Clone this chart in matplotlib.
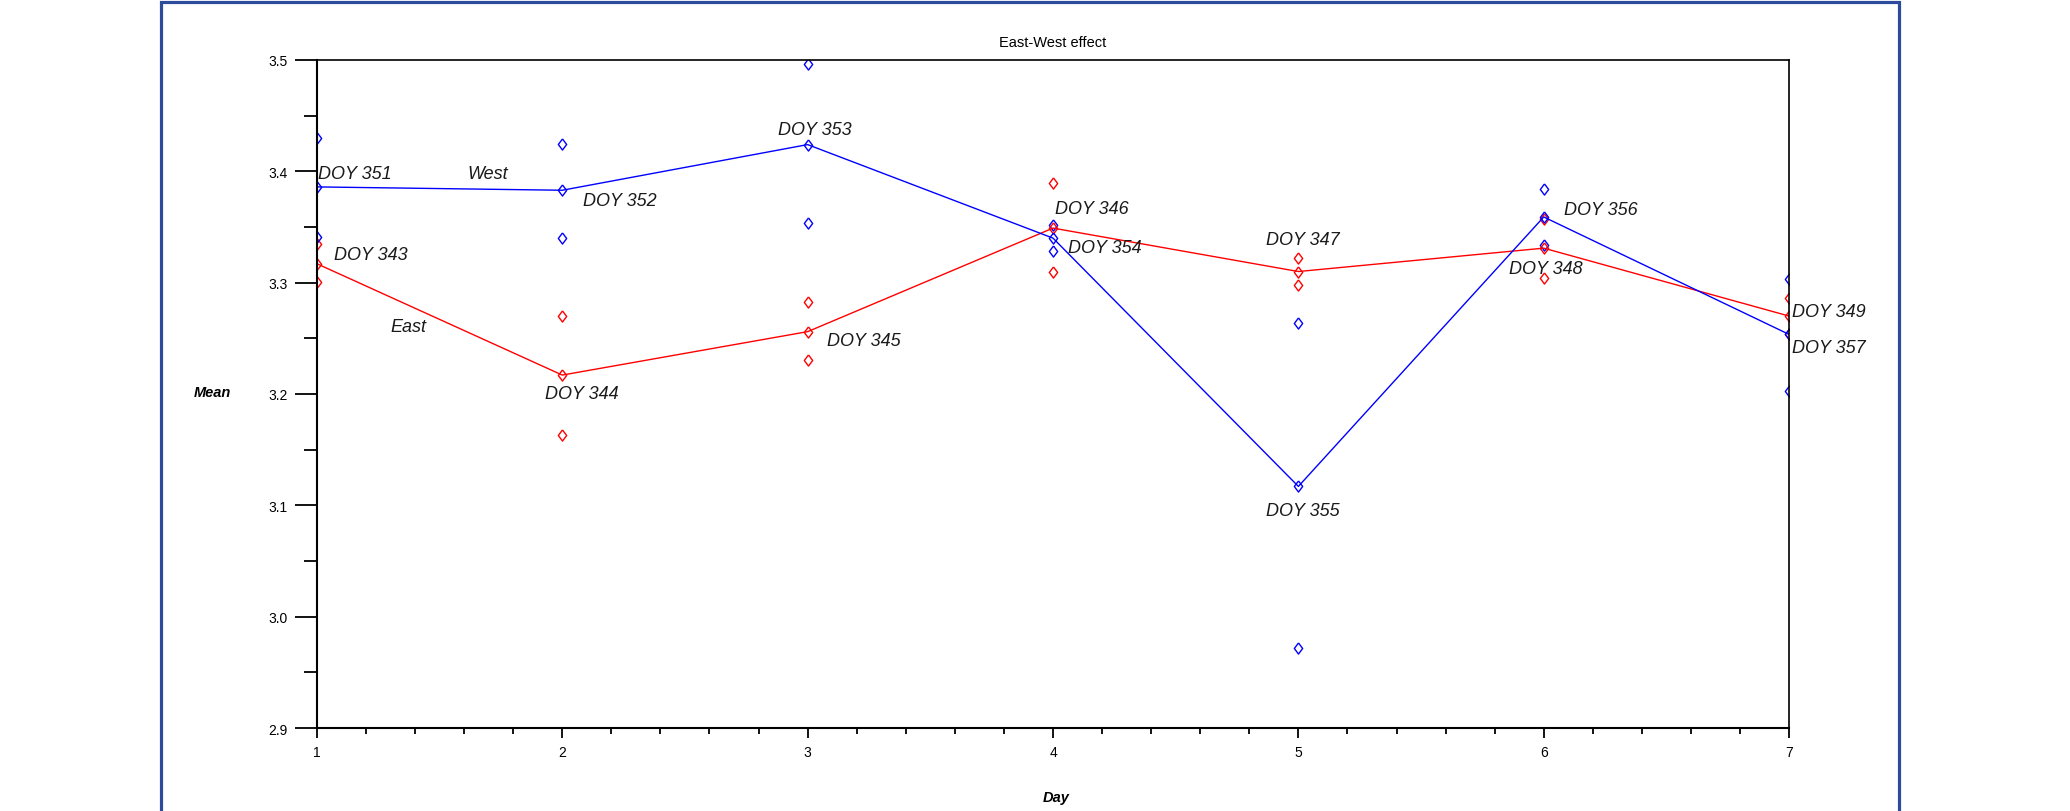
import matplotlib
matplotlib.use('Agg')
import matplotlib.pyplot as plt
import matplotlib.patches as patches
from matplotlib import font_manager

# data: two samples per day for each side, plus the daily mean
days = [1, 2, 3, 4, 5, 6, 7]
east_a = [3.335, 3.2705, 3.2822, 3.3895, 3.3222, 3.3568, 3.2861]
east_b = [3.3004, 3.163, 3.2305, 3.3094, 3.2977, 3.304, 3.2543]
east_mean = [3.317, 3.217, 3.256, 3.349, 3.310, 3.331, 3.270]
west_a = [3.4295, 3.4244, 3.4967, 3.3521, 3.2634, 3.3844, 3.3031]
west_b = [3.341, 3.3405, 3.3533, 3.3288, 2.972, 3.3339, 3.203]
west_mean = [3.386, 3.383, 3.424, 3.340, 3.117, 3.359, 3.2535]

# DOY annotations (text, x, y) in data units
doy_labels = [
    ('DOY 351', 1.006, 3.398), ('DOY 343', 1.068, 3.325),
    ('DOY 352', 2.084, 3.374), ('DOY 344', 1.929, 3.200),
    ('DOY 353', 2.879, 3.438), ('DOY 345', 3.079, 3.248),
    ('DOY 346', 4.008, 3.367), ('DOY 354', 4.061, 3.332),
    ('DOY 347', 4.868, 3.339), ('DOY 355', 4.867, 3.095),
    ('DOY 356', 6.082, 3.366), ('DOY 348', 5.858, 3.313),
    ('DOY 349', 7.012, 3.274), ('DOY 357', 7.012, 3.242),
]
side_labels = [('West', 1.697, 3.398), ('East', 1.375, 3.261)]

plt.rcParams['font.family'] = ['Liberation Sans', 'DejaVu Sans']

installed = {f.name for f in font_manager.fontManager.ttflist}
if 'Liberation Sans Narrow' in installed:
    doy_font = ['Liberation Sans Narrow', 'Liberation Sans']
    doy_size = 15.5
else:
    doy_font = ['Liberation Sans', 'DejaVu Sans']
    doy_size = 13

fig = plt.figure(figsize=(20.7, 8.12), dpi=100)
ax = fig.add_axes([0.1531, 0.1022, 0.7112, 0.8227])

# blue outer frame
frame = patches.Rectangle((0.0778, -0.05), 0.8396, 1.0463, transform=fig.transFigure,
                          fill=False, edgecolor='#2D4B9B', linewidth=2.3, clip_on=False)
fig.patches.append(frame)

diamond = [(0, 1), (0.75, 0), (0, -1), (-0.75, 0), (0, 1)]
mk = dict(marker=diamond, ms=8, mfc='none', mew=1.0, linestyle='none')

red = '#FF0000'
blue = '#0000FF'
ax.plot(days, east_a, color=red, **mk)
ax.plot(days, east_b, color=red, **mk)
ax.plot(days, west_a, color=blue, **mk)
ax.plot(days, west_b, color=blue, **mk)
ax.plot(days, east_mean, color=red, lw=1.0, marker=diamond, ms=8, mfc='none', mew=1.0)
ax.plot(days, west_mean, color=blue, lw=1.0, marker=diamond, ms=8, mfc='none', mew=1.0)

for txt, x, y in doy_labels:
    ax.text(x, y, txt, ha='left', va='center', style='italic', family=doy_font,
            fontsize=doy_size, color='#1a1a1a', clip_on=False)
for txt, x, y in side_labels:
    ax.text(x, y, txt, ha='center', va='center', style='italic', family=doy_font,
            fontsize=doy_size, color='#1a1a1a')

ax.set_xlim(1, 7)
ax.set_ylim(2.9, 3.5)
ax.set_xticks(days)
ax.set_xticks([d + k * 0.2 for d in days[:-1] for k in range(1, 5)], minor=True)
ax.set_yticks([2.9, 3.0, 3.1, 3.2, 3.3, 3.4, 3.5])
ax.set_yticklabels(['2.9', '3.0', '3.1', '3.2', '3.3', '3.4', '3.5'])
ax.set_yticks([2.95, 3.05, 3.15, 3.25, 3.35, 3.45], minor=True)

ax.tick_params(axis='y', which='major', direction='out', length=16, width=1.3,
               pad=5, labelsize=10)
ax.tick_params(axis='y', which='minor', direction='out', length=9.4, width=1.3)
ax.tick_params(axis='x', which='major', direction='out', length=7.2, width=1.3,
               pad=5, labelsize=10)
ax.tick_params(axis='x', which='minor', direction='out', length=4, width=1.3)
ax.tick_params(top=False, right=False, which='both')

for s in ['left', 'bottom']:
    ax.spines[s].set_linewidth(1.5)
for s in ['top', 'right']:
    ax.spines[s].set_linewidth(1.2)

ax.text(0.5, 1 + 18 / 668, 'East-West effect', transform=ax.transAxes,
        ha='center', va='center', fontsize=10.5)
ax.text(-0.0713, 0.503, 'Mean', transform=ax.transAxes, ha='center', va='center',
        fontsize=10.5, style='italic', weight='bold')
ax.text(0.5024, -0.1033, 'Day', transform=ax.transAxes, ha='center', va='center',
        fontsize=10.5, style='italic', weight='bold')

fig.savefig('out.png', dpi=100)
